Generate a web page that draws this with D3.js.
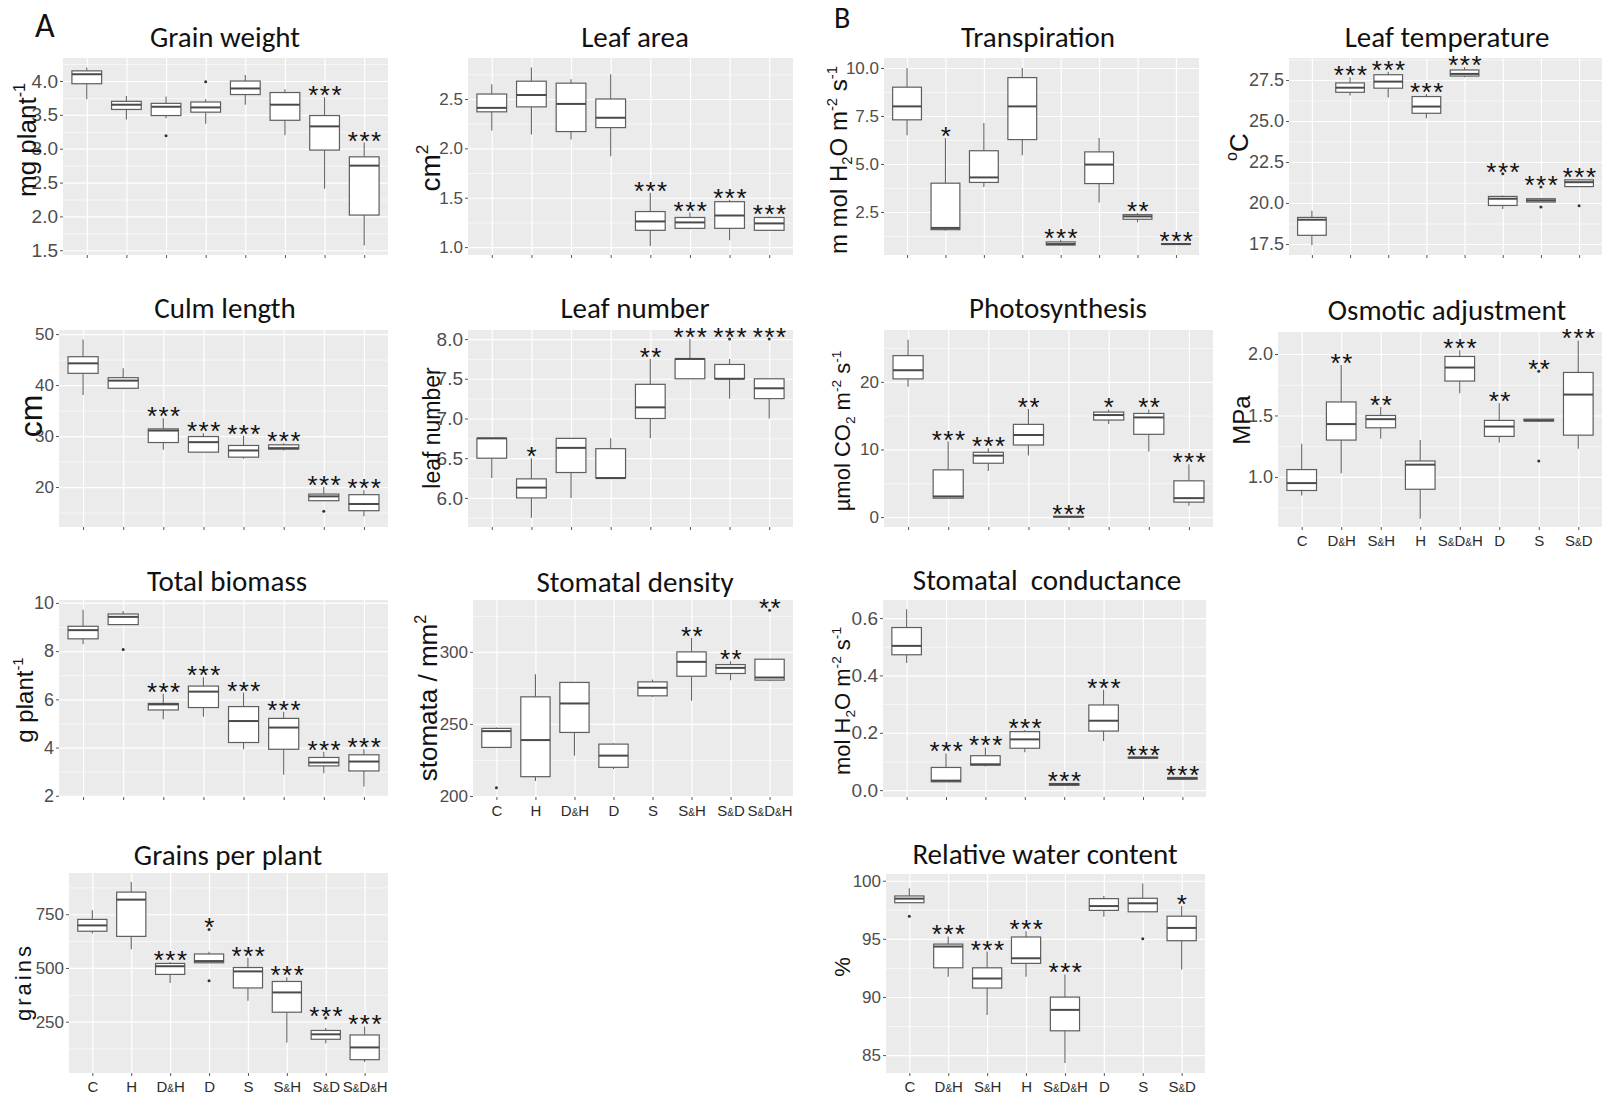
<!DOCTYPE html>
<html><head><meta charset="utf-8">
<script src="https://cdn.jsdelivr.net/npm/d3@7"></script>
<style>body{margin:0;background:#fff} svg{display:block}</style>
</head><body>
<svg id="c" width="1602" height="1095"></svg>
<script>
// ---------------- DATA ----------------
const categoriesA = ["C","H","D&H","D","S","S&H","S&D","S&D&H"];
const categoriesB = ["C","D&H","S&H","H","S&D&H","D","S","S&D"];
// each box: [lower whisker, Q1, median, Q3, upper whisker]
const grainWeightBoxes = [[3.73,3.96,4.10,4.15,4.20],[3.43,3.58,3.65,3.70,3.78],[3.45,3.49,3.62,3.67,3.77],[3.37,3.54,3.61,3.69,3.73],[3.65,3.80,3.89,4.00,4.09],[3.20,3.42,3.65,3.83,3.88],[2.41,2.98,3.33,3.49,3.76],[1.57,2.02,2.75,2.88,3.09]];
const grainWeightOutliers = [[],[],[3.19],[3.99],[],[],[],[]];
const grainWeightSig = ["","","","","","","***","***"];
const grainWeightTicks = [1.5,2.0,2.5,3.0,3.5,4.0];

const leafAreaBoxes = [[2.18,2.37,2.41,2.55,2.65],[2.14,2.42,2.54,2.68,2.82],[2.09,2.17,2.45,2.66,2.70],[1.92,2.21,2.31,2.50,2.75],[1.01,1.17,1.26,1.36,1.55],[1.18,1.19,1.25,1.30,1.35],[1.07,1.19,1.32,1.46,1.48],[1.17,1.17,1.24,1.30,1.31]];
const leafAreaOutliers = [[],[],[],[],[],[],[],[]];
const leafAreaSig = ["","","","","***","***","***","***"];
const leafAreaTicks = [1.0,1.5,2.0,2.5];

const transpirationBoxes = [[6.5,7.3,8.0,9.0,10.0],[1.53,1.58,1.67,4.0,6.35],[3.8,4.04,4.3,5.69,7.14],[5.45,6.27,8.0,9.5,10.0],[0.76,0.78,0.83,0.94,1.06],[3.0,3.98,4.97,5.63,6.35],[1.96,2.12,2.27,2.36,2.45],[0.8,0.81,0.83,0.85,0.86]];
const transpirationOutliers = [[],[],[],[],[],[],[],[]];
const transpirationSig = ["","*","","","***","","**","***"];
const transpirationTicks = [2.5,5.0,7.5,10.0];

const leafTempBoxes = [[17.42,18.03,18.98,19.12,19.53],[26.55,26.75,27.03,27.32,27.66],[26.43,27.0,27.4,27.82,28.0],[25.17,25.47,25.88,26.49,26.65],[27.66,27.74,27.87,28.11,28.27],[19.63,19.85,20.26,20.40,20.45],[20.06,20.06,20.16,20.26,20.3],[21.0,21.0,21.27,21.41,21.48]];
const leafTempOutliers = [[],[],[],[],[],[21.78],[20.97,19.75],[19.83]];
const leafTempSig = ["","***","***","***","***","***","***","***"];
const leafTempTicks = [17.5,20.0,22.5,25.0,27.5];

const culmBoxes = [[38.06,42.3,44.26,45.56,48.96],[39.17,39.37,40.87,41.45,43.3],[27.3,28.73,31.08,31.4,33.5],[26.84,26.84,28.8,29.9,30.56],[25.54,25.86,27.17,28.15,30.04],[27.17,27.43,27.63,28.28,28.6],[17.2,17.32,18.17,18.62,20.0],[14.25,15.36,16.67,18.5,19.35]];
const culmOutliers = [[],[],[],[],[],[],[15.23],[]];
const culmSig = ["","","***","***","***","***","***","***"];
const culmTicks = [20,30,40,50];

const leafNumBoxes = [[6.25,6.5,6.75,6.75,6.75],[5.75,6.0,6.13,6.24,6.5],[6.0,6.32,6.63,6.75,6.75],[6.25,6.25,6.25,6.62,6.75],[6.75,7.0,7.14,7.43,7.75],[7.5,7.5,7.75,7.75,8.0],[7.25,7.5,7.5,7.68,7.75],[7.0,7.25,7.38,7.5,7.5]];
const leafNumOutliers = [[],[],[],[],[],[],[8.0],[8.0]];
const leafNumSig = ["","*","","","**","***","***","***"];
const leafNumTicks = [6.0,6.5,7.0,7.5,8.0];

const photoBoxes = [[19.26,20.44,21.72,23.88,26.24],[2.8,2.8,3.05,6.98,11.16],[6.83,7.96,9.09,9.58,10.17],[9.09,10.66,12.14,13.71,15.97],[0.0,0.02,0.05,0.08,0.1],[13.76,14.35,15.09,15.53,15.92],[9.68,12.24,14.74,15.33,15.92],[1.67,2.21,2.8,5.36,7.81]];
const photoOutliers = [[],[],[],[],[],[],[],[]];
const photoSig = ["","***","***","**","***","*","**","***"];
const photoTicks = [0,10,20];

const osmoticBoxes = [[0.85,0.89,0.95,1.06,1.27],[1.03,1.30,1.43,1.61,1.91],[1.31,1.40,1.47,1.50,1.57],[0.66,0.90,1.10,1.13,1.30],[1.68,1.78,1.89,1.98,2.03],[1.28,1.33,1.41,1.46,1.60],[1.45,1.455,1.46,1.47,1.47],[1.23,1.34,1.67,1.85,2.11]];
const osmoticOutliers = [[],[],[],[],[],[],[1.86,1.13],[]];
const osmoticSig = ["","**","**","","***","**","**","***"];
const osmoticTicks = [1.0,1.5,2.0];

const biomassBoxes = [[8.28,8.51,8.87,9.03,9.72],[9.10,9.10,9.42,9.54,9.66],[5.17,5.56,5.79,5.83,6.23],[5.28,5.66,6.32,6.55,6.92],[3.93,4.21,5.10,5.70,6.28],[2.87,3.93,4.83,5.21,5.49],[2.94,3.24,3.38,3.59,3.83],[2.39,3.03,3.42,3.70,3.93]];
const biomassOutliers = [[],[8.07],[],[],[],[],[],[]];
const biomassSig = ["","","***","***","***","***","***","***"];
const biomassTicks = [2,4,6,8,10];

const stomDensBoxes = [[233.7,233.7,245.0,246.9,247.5],[210.4,213.4,238.8,268.8,284.5],[228,244.1,264.2,278.8,278.8],[218.7,219.9,228,236,236.5],[268.8,269.5,275.1,279.2,280.8],[266.1,283.1,293.1,300,309.7],[280.4,285,288.9,291.2,293.5],[279.7,280.4,282.2,294.9,294.9]];
const stomDensOutliers = [[205.8],[],[],[],[],[],[],[328.9]];
const stomDensSig = ["","","","","","**","**","**"];
const stomDensTicks = [200,250,300];

const stomCondBoxes = [[0.443,0.472,0.503,0.567,0.631],[0.029,0.029,0.033,0.079,0.128],[0.082,0.087,0.090,0.120,0.149],[0.132,0.146,0.177,0.204,0.210],[0.015,0.017,0.020,0.023,0.025],[0.171,0.206,0.242,0.297,0.350],[0.110,0.112,0.113,0.115,0.116],[0.036,0.038,0.041,0.044,0.046]];
const stomCondOutliers = [[],[],[],[],[],[],[],[]];
const stomCondSig = ["","***","***","***","***","***","***","***"];
const stomCondTicks = [0.0,0.2,0.4,0.6];

const grainsBoxes = [[660,671,698,726,769],[587,647,818,853,900],[430,470,508,521,528],[524,524,532,565,576],[347,407,484,502,547],[153,294,386,437,457],[149,168,191,209,220],[62,73,130,188,228]];
const grainsOutliers = [[],[],[],[679,441],[],[],[267],[]];
const grainsSig = ["","","***","*","***","***","***","***"];
const grainsTicks = [250,500,750];

const rwcBoxes = [[98.11,98.11,98.46,98.69,99.36],[91.73,92.51,94.34,94.55,95.21],[88.45,90.77,91.59,92.51,93.91],[91.73,92.89,93.33,95.16,95.65],[84.33,87.09,88.89,89.99,91.94],[96.9,97.45,97.82,98.46,98.69],[97.33,97.33,98.06,98.49,99.77],[92.37,94.84,95.94,96.95,97.82]];
const rwcOutliers = [[96.95],[],[],[],[],[],[95.0],[]];
const rwcSig = ["","***","***","***","***","","","*"];
const rwcTicks = [85,90,95,100];

// ---------------- LAYOUT ----------------
const panels = [
 {title:"Grain weight", tx:225, ty:47, cats:categoriesA, boxes:grainWeightBoxes, out:grainWeightOutliers, sig:grainWeightSig, ticks:grainWeightTicks, fmt:".1f", dom:[1.43,4.34], x0:63,x1:388,y0:58,y1:255, tf:19, lab:[["mg plant",""],["-1","sup"]], lx:36, ly:140, ls:26, showX:false},
 {title:"Leaf area", tx:635, ty:47, cats:categoriesA, boxes:leafAreaBoxes, out:leafAreaOutliers, sig:leafAreaSig, ticks:leafAreaTicks, fmt:".1f", dom:[0.92,2.915], x0:468,x1:793,y0:58,y1:255, tf:17, lab:[["cm",""],["2","sup"]], lx:440, ly:168, ls:28, showX:false},
 {title:"Transpiration", tx:1038, ty:47, cats:categoriesB, boxes:transpirationBoxes, out:transpirationOutliers, sig:transpirationSig, ticks:transpirationTicks, fmt:".1f", dom:[0.26,10.52], x0:884,x1:1199,y0:58,y1:255, tf:17, lab:[["m mol H",""],["2","sub"],["O m",""],["-2","sup"],[" s",""],["-1","sup"]], lx:847, ly:160, ls:24, showX:false},
 {title:"Leaf temperature", tx:1447, ty:47, cats:categoriesB, boxes:leafTempBoxes, out:leafTempOutliers, sig:leafTempSig, ticks:leafTempTicks, fmt:".1f", dom:[16.83,28.84], x0:1289,x1:1602,y0:58,y1:255, tf:18, lab:[["o","sup"],["C",""]], lx:1248, ly:147, ls:26, showX:false},
 {title:"Culm length", tx:225, ty:318, cats:categoriesA, boxes:culmBoxes, out:culmOutliers, sig:culmSig, ticks:culmTicks, fmt:"d", dom:[12.16,50.8], x0:59,x1:388,y0:330,y1:527, tf:17, lab:[["cm",""]], lx:42, ly:416, ls:32, showX:false},
 {title:"Leaf number", tx:635, ty:318, cats:categoriesA, boxes:leafNumBoxes, out:leafNumOutliers, sig:leafNumSig, ticks:leafNumTicks, fmt:".1f", dom:[5.634,8.114], x0:468,x1:793,y0:330,y1:527, tf:19, lab:[["leaf number",""]], lx:440, ly:428, ls:23, showX:false},
 {title:"Photosynthesis", tx:1058, ty:318, cats:categoriesB, boxes:photoBoxes, out:photoOutliers, sig:photoSig, ticks:photoTicks, fmt:"d", dom:[-1.47,27.67], x0:884,x1:1213,y0:330,y1:527, tf:17, lab:[["µmol CO",""],["2","sub"],[" m",""],["-2","sup"],[" s",""],["-1","sup"]], lx:850, ly:431, ls:22, showX:false},
 {title:"Osmotic adjustment", tx:1447, ty:320, cats:categoriesB, boxes:osmoticBoxes, out:osmoticOutliers, sig:osmoticSig, ticks:osmoticTicks, fmt:".1f", dom:[0.593,2.179], x0:1278,x1:1602,y0:332,y1:527, tf:18, lab:[["MPa",""]], lx:1250, ly:420, ls:24, showX:true},
 {title:"Total biomass", tx:227, ty:591, cats:categoriesA, boxes:biomassBoxes, out:biomassOutliers, sig:biomassSig, ticks:biomassTicks, fmt:"d", dom:[1.95,10.12], x0:59,x1:388,y0:600,y1:797, tf:18, lab:[["g plant",""],["-1","sup"]], lx:33, ly:700, ls:24, showX:false},
 {title:"Stomatal density", tx:635, ty:592, cats:categoriesA, boxes:stomDensBoxes, out:stomDensOutliers, sig:stomDensSig, ticks:stomDensTicks, fmt:"d", dom:[199.3,336], x0:473,x1:793,y0:600,y1:797, tf:17, lab:[["stomata / mm",""],["2","sup"]], lx:437, ly:698, ls:26, showX:true},
 {title:"Stomatal  conductance", tx:1047, ty:590, cats:categoriesB, boxes:stomCondBoxes, out:stomCondOutliers, sig:stomCondSig, ticks:stomCondTicks, fmt:".1f", dom:[-0.024,0.663], x0:883,x1:1206,y0:600,y1:797, tf:19, lab:[["mol H",""],["2","sub"],["O m",""],["-2","sup"],[" s",""],["-1","sup"]], lx:850, ly:701, ls:22, showX:false},
 {title:"Grains per plant", tx:228, ty:865, cats:categoriesA, boxes:grainsBoxes, out:grainsOutliers, sig:grainsSig, ticks:grainsTicks, fmt:"d", dom:[11,942], x0:69,x1:388,y0:873,y1:1073, tf:17, lab:[["grains",""]], lx:31, ly:982, ls:22, sp:3, showX:true},
 {title:"Relative water content", tx:1045, ty:864, cats:categoriesB, boxes:rwcBoxes, out:rwcOutliers, sig:rwcSig, ticks:rwcTicks, fmt:"d", dom:[83.46,100.58], x0:886,x1:1205,y0:874,y1:1073, tf:17, lab:[["%",""]], lx:850, ly:967, ls:22, showX:true}
];

const svg = d3.select("#c");
const SANS = "'Liberation Sans', Arial, sans-serif";
const TITLE = "Carlito, Lato, 'Open Sans', sans-serif";

function yLabel(g, segs, x, y, size, sp){
  const t = g.append("text").attr("transform",`translate(${x},${y}) rotate(-90)`)
    .attr("text-anchor","middle").style("font-family",SANS).style("font-size",size+"px").attr("fill","#111");
  if (sp) t.style("letter-spacing", sp+"px");
  let shift = 0;
  segs.forEach(([s,type])=>{
    const target = type==="sup" ? -0.42*size : type==="sub" ? 0.22*size : 0;
    const ts = t.append("tspan").text(s).attr("dy", target-shift);
    shift = target;
    if (type) ts.style("font-size",(size*0.62)+"px");
  });
}

// category label with a smaller ampersand, as in the figure
function catLabel(sel){
  sel.each(function(d){
    const t = d3.select(this).text(null);
    d.split("&").forEach((part,k)=>{
      if (k>0) t.append("tspan").style("font-size","10px").text("&");
      t.append("tspan").text(part);
    });
  });
}

panels.forEach(p=>{
  const g = svg.append("g");
  const x = d3.scalePoint().domain(p.cats).range([p.x0,p.x1]).padding(0.6);
  const y = d3.scaleLinear().domain(p.dom).range([p.y1,p.y0]);
  const W = p.x1-p.x0, H = p.y1-p.y0;
  g.append("rect").attr("x",p.x0).attr("y",p.y0).attr("width",W).attr("height",H).attr("fill","#EBEBEB");
  // minor grid
  const st = p.ticks[1]-p.ticks[0];
  const minors = [];
  for (let v = p.ticks[0]-st/2; v <= p.ticks[p.ticks.length-1]+st/2+1e-9; v += st)
    if (v>=p.dom[0] && v<=p.dom[1]) minors.push(v);
  const gm = g.append("g").attr("transform",`translate(${p.x0},0)`)
    .call(d3.axisLeft(y).tickValues(minors).tickSize(-W).tickFormat(""));
  gm.select(".domain").remove();
  gm.selectAll("line").attr("stroke","#fff").attr("stroke-width",0.6);
  // major grid
  const gM = g.append("g").attr("transform",`translate(${p.x0},0)`)
    .call(d3.axisLeft(y).tickValues(p.ticks).tickSize(-W).tickFormat(""));
  gM.select(".domain").remove();
  gM.selectAll("line").attr("stroke","#fff").attr("stroke-width",1.2);
  const gV = g.append("g").attr("transform",`translate(0,${p.y1})`)
    .call(d3.axisBottom(x).tickSize(-H).tickFormat(""));
  gV.select(".domain").remove();
  gV.selectAll("line").attr("stroke","#fff").attr("stroke-width",1.2);
  // axes
  const ay = g.append("g").attr("transform",`translate(${p.x0},0)`)
    .call(d3.axisLeft(y).tickValues(p.ticks).tickSize(3).tickPadding(2).tickFormat(d3.format(p.fmt)));
  ay.select(".domain").remove();
  ay.selectAll("line").attr("stroke","#555");
  ay.selectAll("text").attr("fill","#4d4d4d").style("font-family",SANS).style("font-size",p.tf+"px");
  const ax = g.append("g").attr("transform",`translate(0,${p.y1})`)
    .call(d3.axisBottom(x).tickSize(3).tickPadding(5).tickFormat(p.showX ? (d=>d) : ""));
  ax.select(".domain").remove();
  ax.selectAll("line").attr("stroke","#555");
  ax.selectAll("text").attr("fill","#2b2b2b").style("font-family",SANS).style("font-size","15px");
  if (p.showX) ax.selectAll(".tick text").call(catLabel);
  // boxes
  const bw = x.step()*0.75;
  p.cats.forEach((c,i)=>{
    const b = p.boxes[i], cx = x(c);
    const bg = g.append("g");
    bg.append("line").attr("x1",cx).attr("x2",cx).attr("y1",y(b[0])).attr("y2",y(b[1])).attr("stroke","#666").attr("stroke-width",1.1);
    bg.append("line").attr("x1",cx).attr("x2",cx).attr("y1",y(b[3])).attr("y2",y(b[4])).attr("stroke","#666").attr("stroke-width",1.1);
    bg.append("rect").attr("x",cx-bw/2).attr("y",y(b[3])).attr("width",bw).attr("height",Math.max(0.5,y(b[1])-y(b[3])))
      .attr("fill","#fff").attr("stroke","#5e5e5e").attr("stroke-width",1.2);
    bg.append("line").attr("x1",cx-bw/2).attr("x2",cx+bw/2).attr("y1",y(b[2])).attr("y2",y(b[2])).attr("stroke","#4a4a4a").attr("stroke-width",2);
    p.out[i].forEach(o=>{
      bg.append("circle").attr("cx",cx).attr("cy",y(o)).attr("r",1.5).attr("fill","#333");
    });
    if (p.sig[i]) {
      const top = d3.max([b[4], ...p.out[i]]);
      g.append("text").attr("x",cx).attr("dx",1).attr("y",Math.max(y(top)+7, p.y0+15))
        .attr("text-anchor","middle").style("font-family",SANS).style("font-size","26px").style("letter-spacing","1.5px")
        .attr("fill","#111").text(p.sig[i]);
    }
  });
  // title
  g.append("text").attr("x",p.tx).attr("y",p.ty).attr("text-anchor","middle").style("font-family",TITLE)
    .style("font-size","29px").style("white-space","pre").attr("fill","#111").text(p.title);
  yLabel(g, p.lab, p.lx, p.ly, p.ls, p.sp);
});

svg.append("text").attr("x",35).attr("y",37).style("font-family",TITLE).style("font-size","34px").attr("fill","#111").text("A");
svg.append("text").attr("x",834).attr("y",28).style("font-family",TITLE).style("font-size","30px").attr("fill","#111").text("B");
</script>
</body></html>
